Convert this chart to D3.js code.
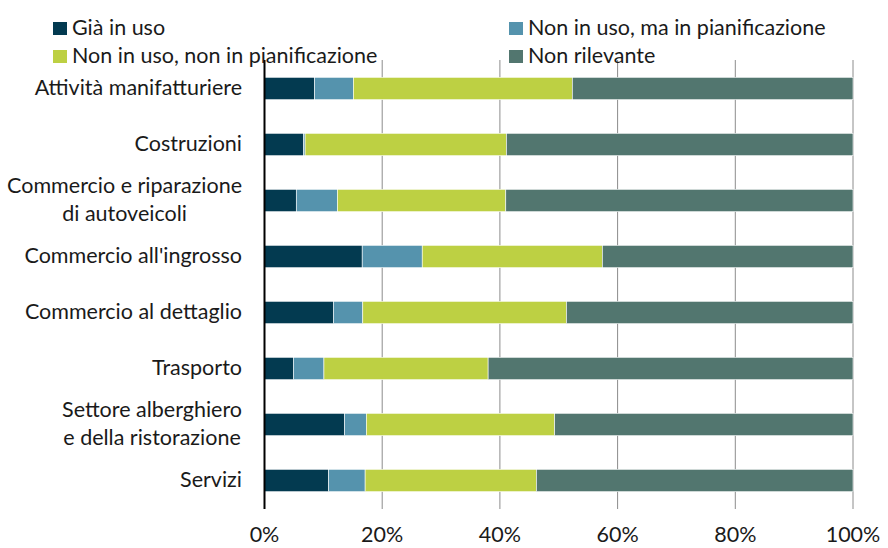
<!DOCTYPE html>
<html>
<head>
<meta charset="utf-8">
<script src="https://cdn.jsdelivr.net/npm/d3@7"></script>
<style>
  body { margin: 0; background: #fff; }
  text { font-family: Lato, "Open Sans", sans-serif; fill: #1a1a1a; }
</style>
</head>
<body>
<div id="chart"></div>
<script>
// categories (multi-line labels split with \n)
var categories = [
  "Attività manifatturiere",
  "Costruzioni",
  "Commercio e riparazione\ndi autoveicoli",
  "Commercio all'ingrosso",
  "Commercio al dettaglio",
  "Trasporto",
  "Settore alberghiero\ne della ristorazione",
  "Servizi"
];
var seriesNames = [
  "Già in uso",
  "Non in uso, ma in pianificazione",
  "Non in uso, non in pianificazione",
  "Non rilevante"
];
var giaInUso       = [8.5, 6.6, 5.4, 16.6, 11.7, 4.9, 13.6, 10.9];
var inPianif       = [6.6, 0.3, 7.0, 10.2, 5.0, 5.2, 3.7, 6.2];
var nonPianif      = [37.2, 34.2, 28.6, 30.6, 34.6, 27.9, 32.0, 29.1];
var nonRilevante   = [47.7, 58.9, 59.0, 42.6, 48.7, 62.0, 50.7, 53.8];
var tickValues = [0, 20, 40, 60, 80, 100];

var colors = ["#033a50", "#5593ad", "#bdd043", "#52766f"];
var fontSize = 21.5;

var width = 888, height = 548;
var svg = d3.select("#chart").append("svg")
    .attr("width", width)
    .attr("height", height);

var x = d3.scaleLinear().domain([0, 100]).range([264.5, 853]);
var y = d3.scaleBand().domain(categories).range([60.5, 508.5])
    .paddingInner(0.6).paddingOuter(0.3);

var rows = categories.map(function(c, i) {
  return { cat: c, v: [giaInUso[i], inPianif[i], nonPianif[i], nonRilevante[i]] };
});
var stack = d3.stack().keys([0, 1, 2, 3]).value(function(d, k) { return d.v[k]; });
var layers = stack(rows);

// gridlines
svg.append("g")
  .selectAll("line")
  .data(tickValues.slice(1))
  .enter().append("line")
  .attr("x1", function(d) { return x(d); })
  .attr("x2", function(d) { return x(d); })
  .attr("y1", 60)
  .attr("y2", 509)
  .attr("stroke", "#8c8c8c")
  .attr("stroke-width", 1);

// bars
svg.append("g")
  .selectAll("g")
  .data(layers)
  .enter().append("g")
  .attr("fill", function(d, i) { return colors[i]; })
  .selectAll("rect")
  .data(function(d) { return d; })
  .enter().append("rect")
  .attr("x", function(d) { return x(d[0]); })
  .attr("width", function(d) { return x(d[1]) - x(d[0]); })
  .attr("y", function(d) { return y(d.data.cat); })
  .attr("height", y.bandwidth())
  .attr("stroke", "#fff")
  .attr("stroke-width", 0.6);

// left axis line
svg.append("line")
  .attr("x1", 264.5).attr("x2", 264.5)
  .attr("y1", 60).attr("y2", 509)
  .attr("stroke", "#000")
  .attr("stroke-width", 2);

// x tick labels
svg.append("g")
  .selectAll("text")
  .data(tickValues)
  .enter().append("text")
  .attr("x", function(d) { return x(d); })
  .attr("y", 542)
  .attr("text-anchor", "middle")
  .attr("font-size", fontSize)
  .text(function(d) { return d + "%"; });

// category labels (right aligned block, lines centred within it)
var labelRight = 242;
categories.forEach(function(c) {
  var lines = c.split("\n");
  var cy = y(c) + y.bandwidth() / 2;
  var g = svg.append("g");
  var texts = lines.map(function(l, j) {
    return g.append("text")
      .attr("y", cy + (j - (lines.length - 1) / 2) * 28)
      .attr("dy", "0.3em")
      .attr("font-size", fontSize)
      .text(l);
  });
  var maxW = d3.max(texts, function(t) { return t.node().getComputedTextLength(); });
  texts.forEach(function(t) {
    t.attr("text-anchor", "middle").attr("x", labelRight - maxW / 2);
  });
});

// legend
var legendPos = [[53, 35], [509, 35], [53, 63], [509, 63]];
var legend = svg.append("g")
  .selectAll("g")
  .data(seriesNames)
  .enter().append("g")
  .attr("transform", function(d, i) { return "translate(" + legendPos[i][0] + "," + legendPos[i][1] + ")"; });
legend.append("rect")
  .attr("x", 0).attr("y", -13)
  .attr("width", 14).attr("height", 13)
  .attr("fill", function(d, i) { return colors[i]; });
legend.append("text")
  .attr("x", 19)
  .attr("font-size", fontSize)
  .text(function(d) { return d; });
</script>
</body>
</html>
